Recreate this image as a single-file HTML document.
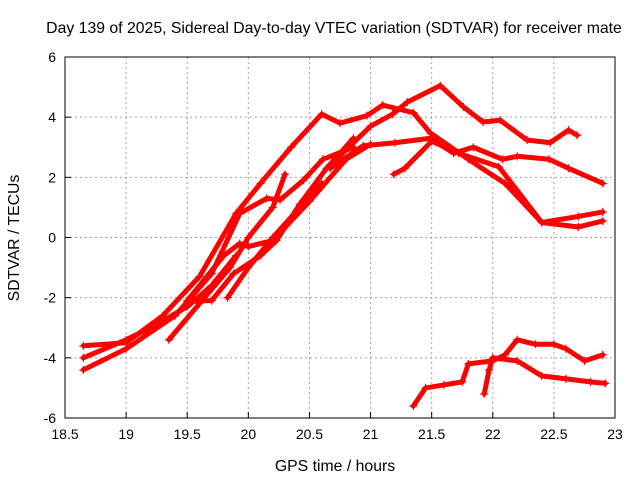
<!DOCTYPE html>
<html><head><meta charset="utf-8"><style>
body{margin:0;background:#fff}
svg{font-family:"Liberation Sans",sans-serif;display:block}
</style></head><body>
<svg id="chart" width="640" height="480">
<text x="334" y="33" font-size="15.8" text-anchor="middle">Day 139 of 2025, Sidereal Day-to-day VTEC variation (SDTVAR) for receiver mate</text>
<g id="grid"></g>
<g id="series"></g>
<rect x="65" y="57" width="550" height="361" fill="none" stroke="#000" stroke-width="1"/>
<g id="ticks"></g>
<text x="335" y="471" font-size="15.8" text-anchor="middle">GPS time / hours</text>
<text transform="translate(19,238) rotate(-90)" font-size="15.8" text-anchor="middle">SDTVAR / TECUs</text>
</svg>
<script>
const xTicks=[18.5,19,19.5,20,20.5,21,21.5,22,22.5,23];
const xTickLabels=["18.5","19","19.5","20","20.5","21","21.5","22","22.5","23"];
const yTicks=[-6,-4,-2,0,2,4,6];
const yTickLabels=["-6","-4","-2","0","2","4","6"];
const trackA_t=[18.65,19.0,19.3,19.6,19.9,20.1,20.35,20.6,20.75,20.97,21.1,21.35,21.49,21.8,22.1,22.4,22.7,22.9];
const trackA_v=[-3.6,-3.5,-2.6,-1.3,0.8,1.8,3.0,4.1,3.8,4.05,4.4,4.15,3.47,2.6,1.8,0.5,0.7,0.85];
const trackB_t=[20.67,21.0,21.18,21.3,21.57,21.76,21.92,22.06,22.28,22.47,22.62,22.69];
const trackB_v=[2.4,3.7,4.1,4.5,5.05,4.34,3.84,3.9,3.24,3.15,3.57,3.4];
const trackC_t=[20.67,20.94,21.2,21.49,21.68,21.84,22.08,22.2,22.46,22.62,22.9];
const trackC_v=[2.3,3.05,3.15,3.3,2.8,3.0,2.6,2.7,2.6,2.3,1.8];
const trackD_t=[21.19,21.28,21.5,21.72,22.05,22.4,22.7,22.9];
const trackD_v=[2.1,2.3,3.2,2.8,2.35,0.5,0.35,0.55];
const trackE_t=[18.65,19.0,19.4,19.7,19.93,20.15,20.26,20.45,20.61,20.86];
const trackE_v=[-4.4,-3.7,-2.6,-1.2,0.8,1.3,1.25,1.9,2.6,3.0];
const trackF_t=[19.5,19.8,19.93,20.0,20.2,20.5,20.8,21.0];
const trackF_v=[-2.1,-0.6,-0.2,-0.3,-0.1,1.2,2.6,3.1];
const trackG_t=[19.5,19.7,19.88,20.1,20.23,20.42,20.64,20.86];
const trackG_v=[-2.1,-2.1,-1.2,-0.6,-0.1,1.1,2.3,3.3];
const trackH_t=[19.35,19.6,19.85,20.0,20.2,20.3];
const trackH_v=[-3.4,-2.2,-1.0,0.0,1.0,2.1];
const trackI_t=[19.83,20.0,20.2,20.4,20.6];
const trackI_v=[-2.0,-1.0,0.0,0.9,1.8];
const trackJ_t=[18.65,19.0,19.2,19.5,19.7,19.9];
const trackJ_v=[-4.0,-3.4,-3.0,-2.3,-1.6,-0.6];
const trackK_t=[21.35,21.45,21.6,21.75,21.8,22.0,22.1,22.2,22.35,22.5,22.6,22.75,22.9];
const trackK_v=[-5.6,-5.0,-4.9,-4.8,-4.2,-4.1,-3.9,-3.4,-3.55,-3.55,-3.7,-4.1,-3.9];
const trackL_t=[21.93,21.97,22.0,22.2,22.4,22.6,22.8,22.92];
const trackL_v=[-5.2,-4.4,-4.0,-4.1,-4.6,-4.7,-4.8,-4.85];
const tracks=[[trackA_t,trackA_v],[trackB_t,trackB_v],[trackC_t,trackC_v],[trackD_t,trackD_v],[trackE_t,trackE_v],[trackF_t,trackF_v],[trackG_t,trackG_v],[trackH_t,trackH_v],[trackI_t,trackI_v],[trackJ_t,trackJ_v],[trackK_t,trackK_v],[trackL_t,trackL_v]];

const NS="http://www.w3.org/2000/svg";
const X0=65,X1=615,Y0=418,Y1=57;
function xs(t){return X0+(t-18.5)/(23-18.5)*(X1-X0);}
function ys(v){return Y0-(v+6)/12*(Y0-Y1);}
function mk(tag,attrs,parent){const e=document.createElementNS(NS,tag);for(const k in attrs)e.setAttribute(k,attrs[k]);parent.appendChild(e);return e;}
const grid=document.getElementById('grid'),ticks=document.getElementById('ticks'),series=document.getElementById('series');
xTicks.forEach((t,i)=>{
  const x=xs(t);
  if(i>0&&i<xTicks.length-1){const g=mk('line',{x1:x,x2:x,y1:Y1,y2:Y0,stroke:'#a0a0a0','stroke-dasharray':'2,3'},grid);
  
  }
  const tk=mk('line',{x1:x,x2:x,y1:Y0,y2:Y0-6,stroke:'#000'},ticks);
  
  
  const tx=mk('text',{x:x,y:Y0+21,'font-size':14,'text-anchor':'middle'},ticks);
  tx.textContent=xTickLabels[i];
  
  
});
yTicks.forEach((v,i)=>{
  const y=ys(v);
  if(i>0&&i<yTicks.length-1){const g=mk('line',{x1:X0,x2:X1,y1:y,y2:y,stroke:'#a0a0a0','stroke-dasharray':'2,3'},grid);
  
  }
  const tk=mk('line',{x1:X0,x2:X0+6,y1:y,y2:y,stroke:'#000'},ticks);
  
  
  const tx=mk('text',{x:X0-9,y:y+5,'font-size':14,'text-anchor':'end'},ticks);
  tx.textContent=yTickLabels[i];
  
  
});
tracks.forEach((tr,k)=>{
  const [T,V]=tr;
  const pts=T.map((t,i)=>xs(t)+','+ys(V[i])).join(' ');
  const pl=mk('polyline',{points:pts,fill:'none',stroke:'#ff0000','stroke-width':5,'stroke-linejoin':'round','stroke-linecap':'round'},series);
  
  
  T.forEach((t,i)=>{
    const x=xs(t),y=ys(V[i]);
    const p=mk('path',{d:`M${x-4},${y}H${x+4}M${x},${y-4}V${y+4}`,stroke:'#ff0000','stroke-width':1.2},series);
    
    
  });
});
</script>
</body></html>
